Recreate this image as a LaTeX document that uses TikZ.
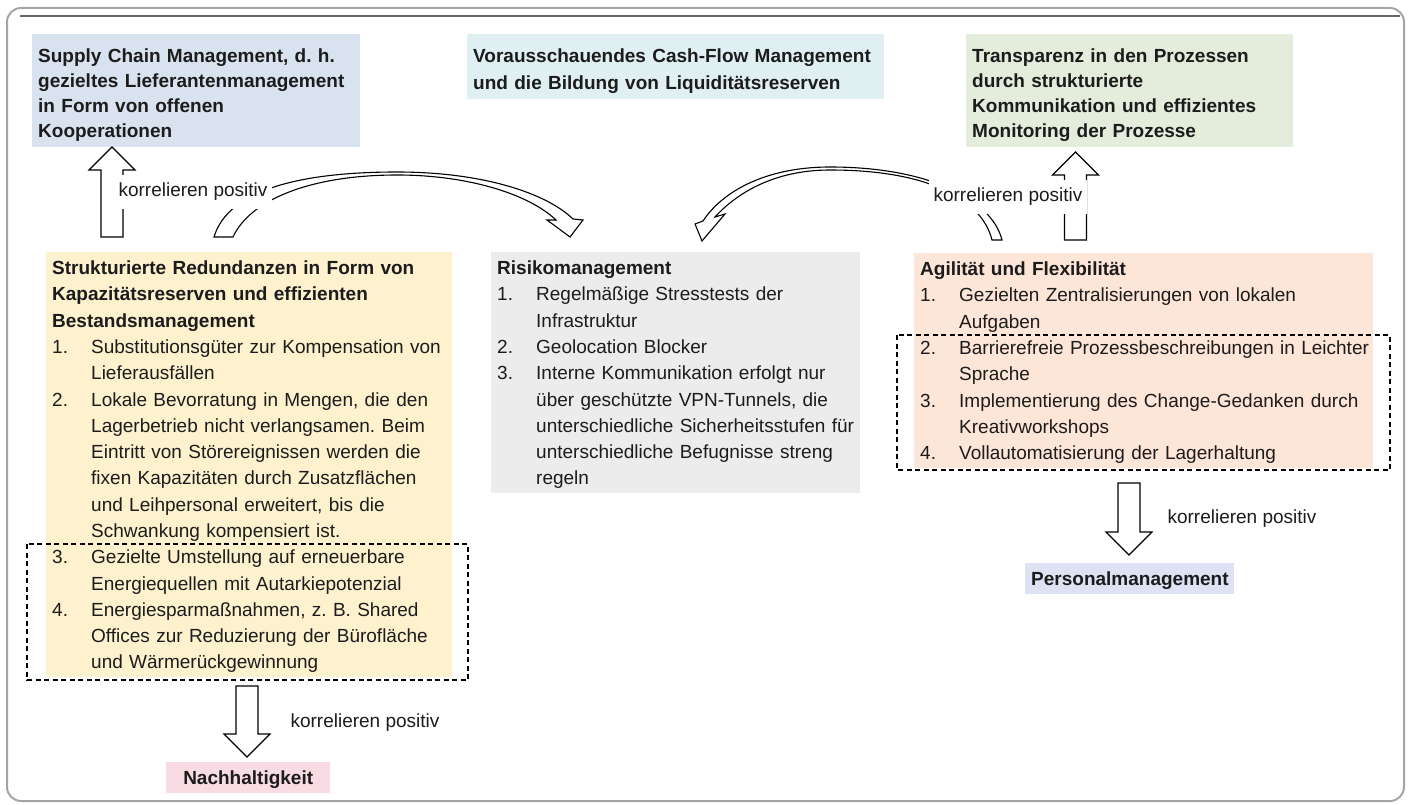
\documentclass[tikz,border=0pt]{standalone}
\usepackage{fontspec}
\setmainfont{Liberation Sans}
\usepackage{xcolor}
\definecolor{scmblue}{HTML}{D8E3EF}
\definecolor{cashcyan}{HTML}{E0F0F2}
\definecolor{transgreen}{HTML}{E4EDDB}
\definecolor{redyellow}{HTML}{FEF1CE}
\definecolor{riskgray}{HTML}{ECECEC}
\definecolor{agilrose}{HTML}{FDE5D7}
\definecolor{nachpink}{HTML}{F9DCE3}
\definecolor{perslav}{HTML}{DDE3F4}
\definecolor{framegray}{HTML}{A5A5A5}
\definecolor{ink}{HTML}{1C1C1C}
\newcommand{\bstrut}{\rule[-6pt]{0pt}{26.3pt}}
\newcommand{\itm}[2]{\makebox[39pt][l]{#1}\mbox{#2}}
\newcommand{\cnt}[1]{\hspace*{39pt}\mbox{#1}}
\frenchspacing

\begin{document}
\begin{tikzpicture}[x=1pt,y=-1pt,
    box/.style={anchor=north west,inner xsep=6pt,inner ysep=2pt,align=left,
      font=\fontsize{19}{26.3}\selectfont,text=ink,
      execute at begin node=\bstrut,execute at end node=\bstrut},
    hl/.style={box,font=\fontsize{19}{26.3}\selectfont\bfseries},
    tophl/.style={hl,font=\fontsize{19}{25}\selectfont\bfseries,
      execute at begin node=\rule{0pt}{26pt},
      execute at end node=\rule[-8pt]{0pt}{8pt}},
    lbl/.style={font=\fontsize{19}{23}\selectfont,text=ink,fill=white,
      inner xsep=5pt,inner ysep=8pt,text height=14pt,text depth=4pt},
    blockarr/.style={draw=black,fill=white,line width=1.1pt,line join=miter},
    dashbox/.style={draw=black,line width=2pt,dash pattern=on 5pt off 3.5pt}]
  \useasboundingbox (0,0) rectangle (1411,805);
  % frame
  \draw[framegray,line width=2pt,rounded corners=14pt] (7,8) rectangle (1404,801);
  \draw[black!60,line width=1.2pt] (20,16) -- (1400,16);

  % top row
  \node[tophl,fill=scmblue,text width=316pt] (scm) at (32,34)
    {Supply Chain Management, d. h.\\ gezieltes Lieferantenmanagement\\
     in Form von offenen\\ Kooperationen};
  \node[tophl,fill=cashcyan,text width=405pt] (cash) at (467,34)
    {Vorausschauendes Cash-Flow Management\\ und die Bildung von Liquiditätsreserven};
  \node[tophl,fill=transgreen,text width=315pt] (transp) at (966,34)
    {Transparenz in den Prozessen\\ durch strukturierte\\
     Kommunikation und effizientes\\ Monitoring der Prozesse};

  % middle row
  \node[box,fill=redyellow,text width=394pt] (redund) at (46,252)
    {\textbf{Strukturierte Redundanzen in Form von}\\
     \textbf{Kapazitätsreserven und effizienten}\\ \textbf{Bestandsmanagement}\\
     \itm{1.}{Substitutionsgüter zur Kompensation von}\\ \cnt{Lieferausfällen}\\
     \itm{2.}{Lokale Bevorratung in Mengen, die den}\\
     \cnt{Lagerbetrieb nicht verlangsamen. Beim}\\
     \cnt{Eintritt von Störereignissen werden die}\\
     \cnt{fixen Kapazitäten durch Zusatzflächen}\\
     \cnt{und Leihpersonal erweitert, bis die}\\
     \cnt{Schwankung kompensiert ist.}\\
     \itm{3.}{Gezielte Umstellung auf erneuerbare}\\
     \cnt{Energiequellen mit Autarkiepotenzial}\\
     \itm{4.}{Energiesparmaßnahmen, z. B. Shared}\\
     \cnt{Offices zur Reduzierung der Bürofläche}\\
     \cnt{und Wärmerückgewinnung}};
  \node[box,fill=riskgray,text width=357pt] (risk) at (491,252)
    {\textbf{Risikomanagement}\\
     \itm{1.}{Regelmäßige Stresstests der}\\ \cnt{Infrastruktur}\\
     \itm{2.}{Geolocation Blocker}\\
     \itm{3.}{Interne Kommunikation erfolgt nur}\\
     \cnt{über geschützte VPN-Tunnels, die}\\
     \cnt{unterschiedliche Sicherheitsstufen für}\\
     \cnt{unterschiedliche Befugnisse streng}\\ \cnt{regeln}};
  \node[box,fill=agilrose,text width=447pt] (agil) at (914,253)
    {\textbf{Agilität und Flexibilität}\\
     \itm{1.}{Gezielten Zentralisierungen von lokalen}\\ \cnt{Aufgaben}\\
     \itm{2.}{Barrierefreie Prozessbeschreibungen in Leichter}\\ \cnt{Sprache}\\
     \itm{3.}{Implementierung des Change-Gedanken durch}\\ \cnt{Kreativworkshops}\\
     \itm{4.}{Vollautomatisierung der Lagerhaltung}};

  % bottom row
  \node[hl,fill=nachpink,text width=152pt,align=center] (nach) at (166,762) {Nachhaltigkeit};
  \node[hl,fill=perslav,text width=197pt,align=center] (pers) at (1025,563) {Personalmanagement};

  \draw[dashbox] (27,544) rectangle (468,680);
  \draw[dashbox] (897,335) rectangle (1390,470);

  % straight block arrows
  \coordinate (upL) at (112,237); \coordinate (upR) at (1075.5,240);
  \coordinate (dnL) at (247,686); \coordinate (dnR) at (1129,483);
  \foreach \c/\s/\t/\h/\k in {upL/-67/67/-23/23,upR/-65/65/-23/23,
      dnL/48/-48/23/-23,dnR/49/-49/23/-23} {
    \draw[blockarr] (\c) ++(-11,0) -- ++(0,\s) -- ++(-12,0) -- ++(23,\h)
      -- ++(23,\k) -- ++(-12,0) -- ++(0,\t) -- cycle; }

  % curved block arrows
  \draw[blockarr] (214,237) .. controls (228,190) and (300,172) .. (397,172)
    .. controls (480,172) and (545,192) .. (573,219) -- (583,220) -- (570,237)
    -- (547,220) -- (556,220) .. controls (530,195) and (470,175) .. (397,175)
    .. controls (310,175) and (250,200) .. (233,237) -- cycle;
  \draw[blockarr] (1002,240) .. controls (992,200) and (930,167) .. (830,167)
    .. controls (765,167) and (722,192) .. (703,221) -- (695,224) -- (702,241)
    -- (725,214) -- (715,217) .. controls (735,195) and (772,170) .. (830,170)
    .. controls (930,170) and (982,200) .. (992,240) -- cycle;

  % labels
  \node[lbl] (kpL) at (193,192) {korrelieren positiv};
  \node[lbl] (kpR) at (1008,197) {korrelieren positiv};
  \node[lbl] (kpN) at (365,722) {korrelieren positiv};
  \node[lbl] (kpP) at (1242,518) {korrelieren positiv};
\end{tikzpicture}
\end{document}
